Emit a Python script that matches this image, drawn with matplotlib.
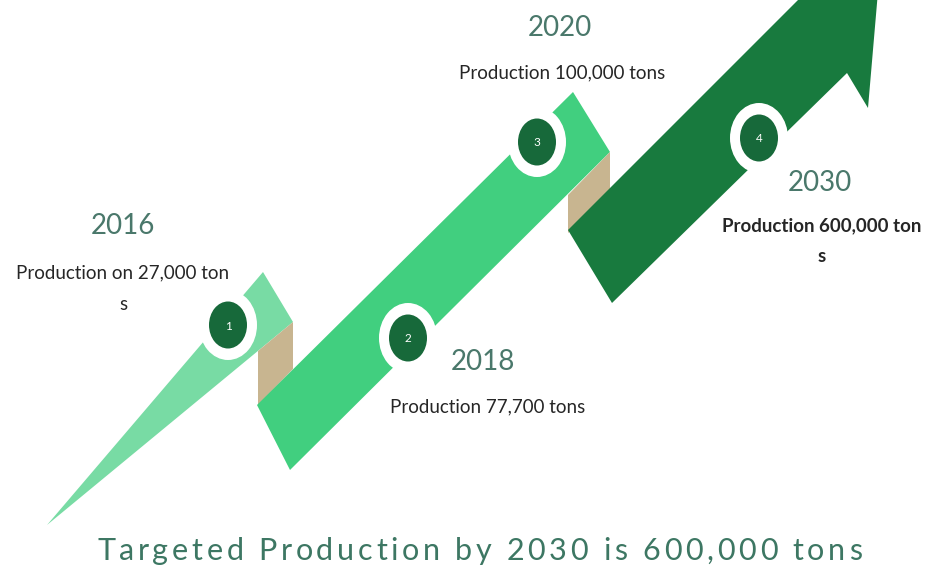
import matplotlib
matplotlib.use("Agg")
import matplotlib.pyplot as plt
from matplotlib.patches import Polygon, Ellipse
from matplotlib.font_manager import FontProperties

# ---- data ----
steps = ["1", "2", "3", "4"]
years = ["2016", "2018", "2020", "2030"]
production_lines = [
    ["Production on 27,000 ton", "s"],
    ["Production 77,700 tons"],
    ["Production 100,000 tons"],
    ["Production 600,000 ton", "s"],
]
production_tons = [27000, 77700, 100000, 600000]
title = "Targeted Production by 2030 is 600,000 tons"

# ---- layout (pixel coordinates, y down) ----
W, H = 936, 577
fig = plt.figure(figsize=(W / 100, H / 100), dpi=100)
ax = fig.add_axes([0, 0, 1, 1])
ax.set_xlim(0, W)
ax.set_ylim(H, 0)
ax.axis("off")

c_seg1 = "#78dba4"
c_seg2 = "#41cf7f"
c_seg3 = "#187a3e"
c_tan = "#c8b590"
c_dot = "#17693a"
c_year = "#4a786b"
c_text = "#262626"
c_title = "#3d7763"

seg1 = [(47, 525), (263, 272), (293, 322)]
tan1 = [(258, 351), (293, 322), (293, 369), (258, 405)]
seg2 = [(257, 405), (573, 92), (610, 152), (290, 470)]
tan2 = [(568, 195), (610, 152), (610, 191), (568, 233)]
seg3 = [(568, 230), (805, -7), (885, -90), (868, 108), (847, 73), (612, 303)]

for pts, col in [(seg1, c_seg1), (tan1, c_tan), (seg2, c_seg2), (tan2, c_tan), (seg3, c_seg3)]:
    ax.add_patch(Polygon(pts, closed=True, facecolor=col, edgecolor="none"))

centers = [(228, 325), (408, 338), (537, 142), (759, 138)]
for (cx, cy), s in zip(centers, steps):
    ax.add_patch(Ellipse((cx, cy), 58, 70, facecolor="white", edgecolor="none"))
    ax.add_patch(Ellipse((cx, cy), 38, 47, facecolor=c_dot, edgecolor="none"))
    ax.text(cx, cy + 1, s, color="white", fontsize=8.5, ha="center", va="center",
            family="Lato")

# year labels and production text
year_pos = [(123, 226), (483, 362), (560, 28), (820, 183)]
prod_pos = [(123, 273), (488, 407), (562, 73), (822, 226)]
bold = [False, False, False, True]
for yr, (yx, yy), lines, (px, py), b in zip(years, year_pos, production_lines, prod_pos, bold):
    ax.text(yx, yy, yr, color=c_year, fontsize=20, ha="center", va="center",
            family="Lato")
    for i, ln in enumerate(lines):
        ax.text(px, py + i * 31, ln, color=c_text, fontsize=13.5, ha="center", va="center",
                family="Lato", fontweight="bold" if b else "normal")

# title with wide letter spacing
renderer = fig.canvas.get_renderer()
fp = FontProperties(family="Lato", size=22)
def tw(s):
    return renderer.get_text_width_height_descent(s, fp, ismath=False)[0]
ref_w = tw("l")
natural = tw(title)
target_left, target_right = 97, 862
track = (target_right - target_left - natural) / (len(title) - 1)
for i, ch in enumerate(title):
    off = tw(title[:i] + "l") - ref_w if i > 0 else 0.0
    ax.text(target_left + off + i * track, 551, ch, color=c_title, fontproperties=fp,
            ha="left", va="center")

fig.savefig("out.png", dpi=100, facecolor="white")
